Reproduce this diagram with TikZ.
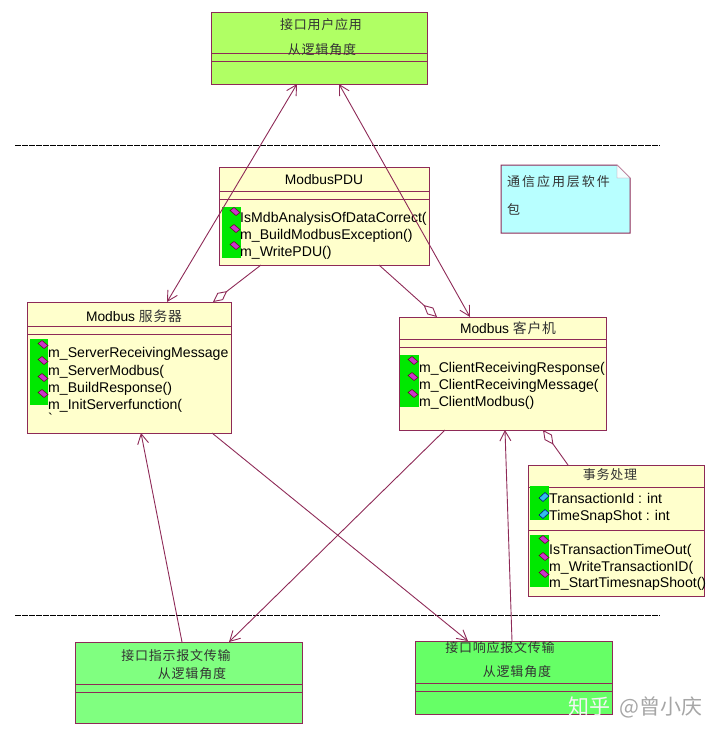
\documentclass[tikz,border=0pt]{standalone}
\usepackage{fontspec}
\setmainfont{Liberation Sans}
\newfontfamily\cjk[LetterSpace=6]{Noto Sans CJK SC}
\newfontfamily\cjknote[LetterSpace=15]{Noto Sans CJK SC}
\newfontfamily\cjkmark{Noto Sans CJK SC}
\usetikzlibrary{arrows.meta, positioning}

\definecolor{umlline}{HTML}{8E2A57}
\definecolor{classfill}{HTML}{FFFFCC}
\definecolor{userfill}{HTML}{B0FF64}
\definecolor{indfill}{HTML}{80FF80}
\definecolor{respfill}{HTML}{66FF66}
\definecolor{notefill}{HTML}{B8FFFF}
\definecolor{stripfill}{HTML}{00E800}
\definecolor{methodfill}{HTML}{CC33CC}
\definecolor{fieldfill}{HTML}{33BBEE}

\tikzset{
    classbox/.style={draw=umlline, line width=1pt, anchor=north west, inner sep=0pt, outer sep=0pt},
    title/.style={inner sep=0pt, font=\fontsize{13.8}{16}\selectfont},
    cntitle/.style={inner sep=0pt, text=black!80, font=\fontsize{13}{16}\selectfont\cjk},
    member/.style={anchor=west, inner sep=0pt, yshift=-1.5pt, text height=10pt, text depth=3pt, font=\fontsize{14.1}{16}\selectfont},
    strip/.style={fill=stripfill, draw=none},
    link/.style={umlline, line width=0.9pt},
    arrowlink/.style={link, -{Straight Barb[length=10pt,width=11pt]}},
    bothlink/.style={link, {Straight Barb[length=10pt,width=11pt]}-{Straight Barb[length=10pt,width=11pt]}},
    aggrlink/.style={link, {Diamond[fill=white,length=18pt,width=9pt]}-},
    divider/.style={black, line width=1pt, dash pattern=on 6pt off 1pt},
    methodicon/.pic={\draw[fill=methodfill, draw=purple!50!black, line width=0.5pt] (-5,-1.5) -- (-1,-4.5) -- (5,0.5) -- (1,3.5) -- cycle;},
    fieldicon/.pic={\draw[fill=fieldfill, draw=blue!50!black, line width=0.5pt] (-5,1) -- (1,-4.5) -- (5,-1) -- (-1,4.5) -- cycle;}
}

\begin{document}
\begin{tikzpicture}[x=1pt, y=-1pt]
    \useasboundingbox (0,0) rectangle (720,737);

    % Boxes
    \node[classbox, fill=userfill, minimum width=216pt, minimum height=72pt] (user) at (211,12) {};
    \node[classbox, fill=classfill, minimum width=210pt, minimum height=98pt] (pdu) at (219,167) {};
    \node[classbox, fill=classfill, minimum width=204pt, minimum height=131pt] (server) at (27,302) {};
    \node[classbox, fill=classfill, minimum width=207pt, minimum height=113pt] (client) at (399,317) {};
    \node[classbox, fill=classfill, minimum width=176pt, minimum height=131pt] (trans) at (528,465) {};
    \node[classbox, fill=indfill, minimum width=227pt, minimum height=81pt] (ind) at (75,642) {};
    \node[classbox, fill=respfill, minimum width=197pt, minimum height=73pt] (resp) at (415,641) {};

    % Compartment lines
    \foreach \boxname/\ya/\yb in {user/53/61, pdu/191/199, server/326/334, client/339/347, trans/487/530, ind/684/692, resp/683/691} {
        \draw[umlline, line width=0.9pt] (\boxname.west |- 0,\ya) -- (\boxname.east |- 0,\ya);
        \draw[umlline, line width=0.9pt] (\boxname.west |- 0,\yb) -- (\boxname.east |- 0,\yb);
    }

    % Note
    \draw[umlline, line width=1pt, fill=notefill] (501,165) -- (617,165) -- (630,178) -- (630,233) -- (501,233) -- cycle;
    \draw[umlline!60, fill=white!85!notefill] (617,165) -- (617,178) -- (630,178) -- cycle;
    \node[cntitle, anchor=west, font=\fontsize{13}{16}\selectfont\cjknote] (noteA) at (507,182) {通信应用层软件};
    \node[cntitle, anchor=west, font=\fontsize{13}{16}\selectfont\cjknote] (noteB) at (507,209) {包};

    % Titles
    \node[cntitle] (userA) at (321,25) {接口用户应用};
    \node[cntitle] (userB) at (322,50) {从逻辑角度};
    \node[title] (pduT) at (324,180) {ModbusPDU};
    \node[title] (serverT) at (134,316) {Modbus {\cjk\color{black!80}服务器}};
    \node[title] (clientT) at (508,328) {Modbus {\cjk\color{black!80}客户机}};
    \node[cntitle] (transT) at (610,475) {事务处理};
    \node[cntitle] (indA) at (176,656) {接口指示报文传输};
    \node[cntitle] (indB) at (192,674) {从逻辑角度};
    \node[cntitle] (respA) at (500,648) {接口响应报文传输};
    \node[cntitle] (respB) at (517,672) {从逻辑角度};

    % Green strips
    \fill[strip] (222,207) rectangle (241,258);
    \fill[strip] (30,339) rectangle (48,405);
    \fill[strip] (400,355) rectangle (419,407);
    \fill[strip] (530,486) rectangle (549,520);
    \fill[strip] (530,535) rectangle (549,587);

    % Members
    \foreach \i/\yi/\yt/\txt in {1/212/217/IsMdbAnalysisOfDataCorrect(, 2/229/234/m\_BuildModbusException(), 3/246/251/m\_WritePDU()} {
        \pic at (235,\yi) {methodicon};
        \node[member] (pdu\i) at (240,\yt) {\txt};
    }
    \foreach \i/\yi/\yt/\txt in {1/345/352/m\_ServerReceivingMessage, 2/361/370/m\_ServerModbus(, 3/378/387/m\_BuildResponse(), 4/394/404/m\_InitServerfunction(} {
        \pic at (43,\yi) {methodicon};
        \node[member] (server\i) at (48,\yt) {\txt};
    }
    \node[member] (serverTail) at (48,418) {\textasciigrave};
    \foreach \i/\yi/\yt/\txt in {1/361/367/m\_ClientReceivingResponse(, 2/377/384/m\_ClientReceivingMessage(, 3/394/401/m\_ClientModbus()} {
        \pic at (413,\yi) {methodicon};
        \node[member] (client\i) at (419,\yt) {\txt};
    }
    \foreach \i/\yi/\yt/\txt in {1/497/498/TransactionId : int, 2/514/515/TimeSnapShot : int} {
        \pic at (544,\yi) {fieldicon};
        \node[member] (field\i) at (549,\yt) {\txt};
    }
    \foreach \i/\yi/\yt/\txt in {1/540/549/IsTransactionTimeOut(, 2/557/566/m\_WriteTransactionID(, 3/574/582/m\_StartTimesnapShoot()} {
        \pic at (544,\yi) {methodicon};
        \node[member] (trans\i) at (549,\yt) {\txt};
    }

    % Layer lines
    \coordinate (upperL) at (15,145);
    \coordinate (upperR) at (660,145);
    \coordinate (lowerL) at (15,615);
    \coordinate (lowerR) at (660,615);
    \draw[divider] (upperL) -- (upperR);
    \draw[divider] (lowerL) -- (lowerR);

    % Connectors
    \draw[bothlink] ([xshift=86pt]user.south west) -- ([xshift=140pt]server.north west);
    \draw[bothlink] ([xshift=128pt]user.south west) -- ([xshift=71pt]client.north west);
    \draw[aggrlink] ([xshift=186pt]server.north west) -- ([xshift=42pt]pdu.south west);
    \draw[aggrlink] ([xshift=38pt]client.north west) -- ([xshift=160pt]pdu.south west);
    \draw[aggrlink] ([xshift=144pt]client.south west) -- ([xshift=40pt]trans.north west);
    \draw[arrowlink] ([xshift=46pt]client.south west) -- ([xshift=154pt]ind.north west);
    \draw[arrowlink] ([xshift=185pt]server.south west) -- ([xshift=53pt]resp.north west);
    \draw[arrowlink] ([xshift=107pt]ind.north west) -- ([xshift=114pt]server.south west);
    \draw[arrowlink] ([xshift=97pt]resp.north west) -- ([xshift=106pt]client.south west);

    % Watermark
    \node[inner sep=0pt, text=white!92!gray, font=\fontsize{21}{24}\selectfont\cjkmark] (markA) at (589,707) {知乎};
    \node[inner sep=0pt, anchor=west, text=black!35, font=\fontsize{21}{24}\selectfont\cjkmark] (markB) at (619,707) {@曾小庆};
\end{tikzpicture}
\end{document}
